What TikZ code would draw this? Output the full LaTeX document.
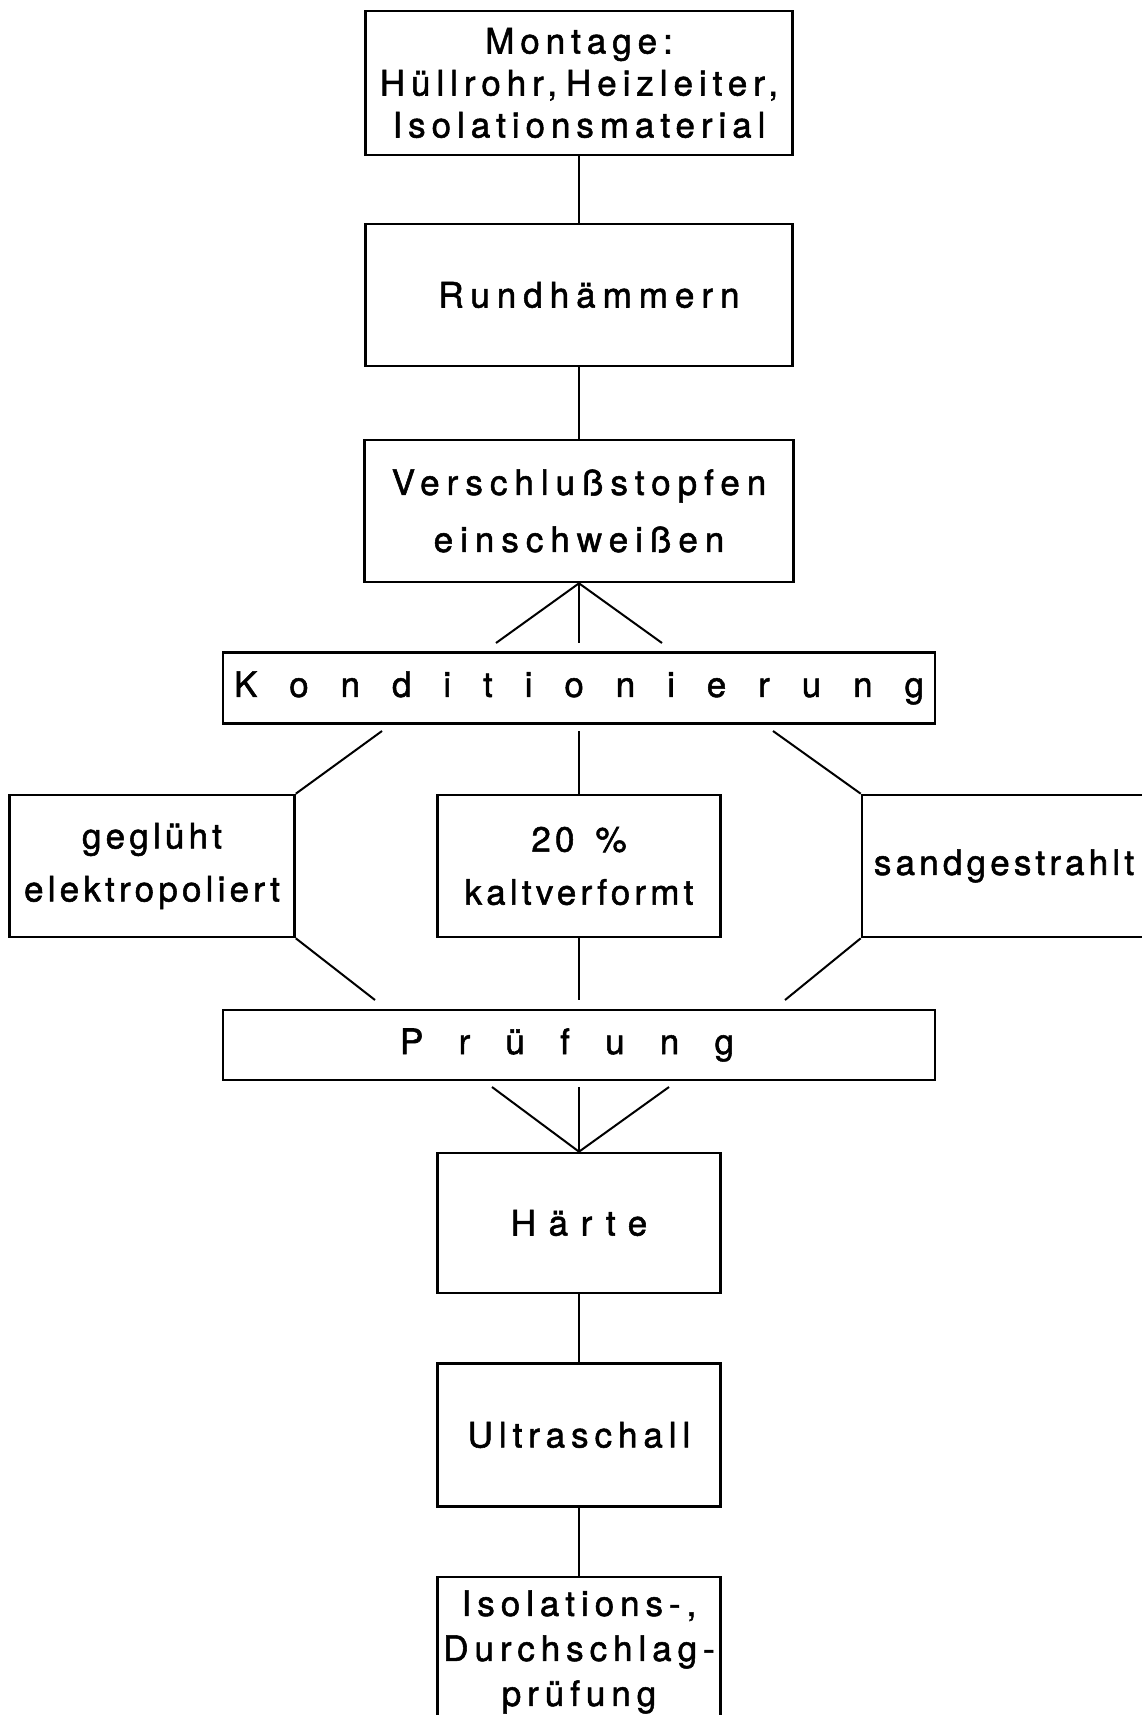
\documentclass[tikz,border=0pt]{standalone}
\usepackage{fontspec}
\setmainfont{TeX Gyre Heros}
\newfontfamily\widefont{TeX Gyre Heros}[LetterSpace=20, FakeBold=1.5]
\newfontfamily\tightfont{TeX Gyre Heros}[LetterSpace=17, FakeBold=1.5]
\newfontfamily\midfont{TeX Gyre Heros}[LetterSpace=12, FakeBold=1.5]
\newfontfamily\hardfont{TeX Gyre Heros}[LetterSpace=36, FakeBold=1.5]
\usetikzlibrary{positioning}

\begin{document}
\begin{tikzpicture}[
  x=1pt, y=-1pt,
  box/.style={draw, line width=2.6pt, inner sep=0pt, align=center,
    minimum width=283pt, minimum height=142pt, font=\widefont\fontsize{35}{42}\selectfont},
  bar/.style={box, minimum width=712pt, minimum height=71pt},
  side/.style={box, minimum width=285pt, font=\midfont\fontsize{35}{53}\selectfont},
  link/.style={line width=2pt},
]
  \useasboundingbox (0,0) rectangle (1141,1715);

  % Fertigung
  \node[box, minimum width=427pt, minimum height=144pt, font=\tightfont\fontsize{35}{42}\selectfont] (montage) at (579,83)
    {Montage:\\Hüllrohr,\hspace{9pt}Heizleiter,\\Isolationsmaterial};
  \node[box, minimum width=427pt] (rund) at (579,295) {\hspace*{20pt}Rundhämmern};
  \node[box, minimum width=429pt, font=\widefont\fontsize{35}{57}\selectfont] (versch) at (579,511)
    {Verschlußstopfen\\einschweißen};
  \node[bar] (kond) at (579,688)
    {\makebox[690pt][s]{K\hfill o\hfill n\hfill d\hfill i\hfill t\hfill i\hfill o\hfill n\hfill i\hfill e\hfill r\hfill u\hfill n\hfill g}};

  % Konditionierung
  \node[side] (gegl) at (152,866) {geglüht\\elektropoliert};
  \node[side, minimum width=283pt] (kalt) at (579,866) {20\hspace{0.6em}\%\\kaltverformt};
  \node[side, minimum width=284pt] (sand) at (1004,866) {sandgestrahlt};

  % Pruefung
  \node[bar, minimum height=70pt] (pruef) at (579,1045)
    {\makebox[334pt][s]{P\hfill r\hfill ü\hfill f\hfill u\hfill n\hfill g}\hspace*{24pt}};
  \node[box, minimum height=140pt, font=\hardfont\fontsize{35}{42}\selectfont] (haerte) at (579,1223) {Härte};
  \node[box, minimum height=143pt, font=\tightfont\fontsize{35}{42}\selectfont] (ultra) at (579,1435) {Ultraschall};
  \node[box, minimum height=150pt, font=\tightfont\fontsize{35}{45}\selectfont] (isol) at (579,1652)
    {Isolations-,\\Durchschlag-\\prüfung};

  \coordinate (fl) at (496,643);
  \coordinate (fm) at (579,643);
  \coordinate (fr) at (662,643);
  \coordinate (kl) at (382,731);
  \coordinate (km) at (579,731);
  \coordinate (kr) at (773,731);
  \coordinate (pl) at (375,1000);
  \coordinate (pm) at (579,1000);
  \coordinate (pr) at (785,1000);
  \coordinate (ql) at (492,1087);
  \coordinate (qm) at (579,1087);
  \coordinate (qr) at (669,1087);

  \draw[link] (montage.south) -- (rund.north);
  \draw[link] (rund.south) -- (versch.north);
  \foreach \p in {fl,fm,fr}
    \draw[link] (versch.south) -- (\p);
  \draw[link] (kl) -- (gegl.north east);
  \draw[link] (km) -- (kalt.north);
  \draw[link] (kr) -- (sand.north west);
  \draw[link] (gegl.south east) -- (pl);
  \draw[link] (kalt.south) -- (pm);
  \draw[link] (sand.south west) -- (pr);
  \foreach \p in {ql,qm,qr}
    \draw[link] (\p) -- (haerte.north);
  \draw[link] (haerte.south) -- (ultra.north);
  \draw[link] (ultra.south) -- (isol.north);
\end{tikzpicture}
\end{document}
